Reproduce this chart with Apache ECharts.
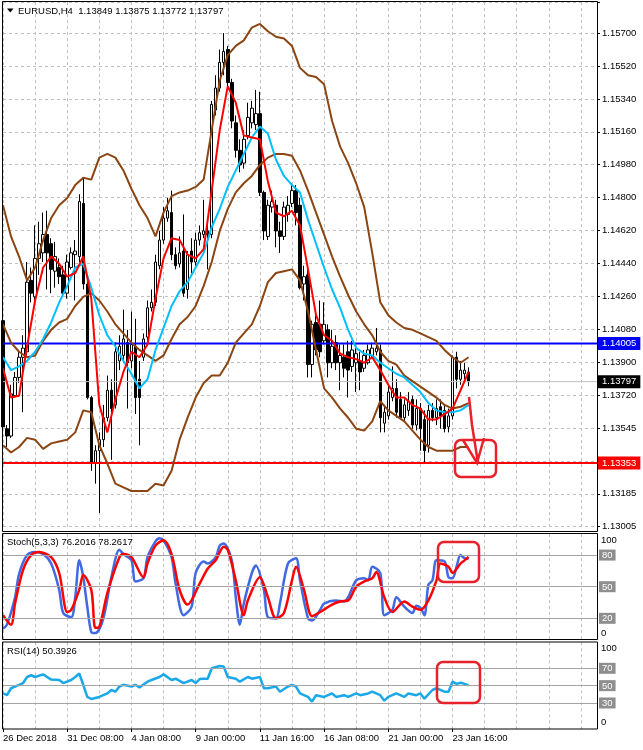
<!DOCTYPE html>
<html>
<head>
<meta charset="utf-8">
<title>EURUSD,H4</title>
<script src="https://cdn.jsdelivr.net/npm/echarts@6/dist/echarts.min.js"></script>
<style>
html, body { margin: 0; padding: 0; background: #fff; }
#chart { width: 643px; height: 750px; }
</style>
</head>
<body>
<div id="chart"></div>
<script>
// H4 candles (bar 0 = 26 Dec 2018 16:00)
var opens = [1.1413,1.1354,1.1350,1.1372,1.1382,1.1393,1.1396,1.1435,1.1426,1.1447,
  1.1450,1.1460,1.1455,1.1440,1.1442,1.1438,1.1428,1.1442,1.1449,1.1448,
  1.1477,1.1433,1.1371,1.1335,1.1342,1.1348,1.1360,1.1375,1.1367,1.1391,
  1.1394,1.1401,1.1391,1.1399,1.1381,1.1393,1.1404,1.1420,1.1423,1.1443,
  1.1457,1.1469,1.1472,1.1449,1.1444,1.1451,1.1430,1.1451,1.1445,1.1457,
  1.1460,1.1462,1.1460,1.1528,1.1540,1.1554,1.1561,1.1543,1.1521,1.1506,
  1.1499,1.1514,1.1521,1.1520,1.1526,1.1483,1.1459,1.1475,1.1476,1.1462,
  1.1459,1.1471,1.1477,1.1484,1.1476,1.1433,1.1438,1.1389,1.1412,1.1411,
  1.1402,1.1408,1.1390,1.1401,1.1390,1.1393,1.1396,1.1388,1.1390,1.1391,
  1.1387,1.1390,1.1394,1.1396,1.1397,1.1357,1.1361,1.1371,1.1376,1.1370,
  1.1360,1.1364,1.1370,1.1356,1.1365,1.1359,1.1345,1.1364,1.1360,1.1366,
  1.1364,1.1355,1.1361,1.1393,1.1381,1.1384,1.13849];
var highs = [1.1418,1.1356,1.1378,1.1385,1.1397,1.1405,1.1445,1.1442,1.1465,1.1467,
  1.1472,1.1473,1.1458,1.1456,1.1447,1.1443,1.1449,1.1453,1.1457,1.1482,
  1.1491,1.1436,1.1372,1.1345,1.1352,1.1367,1.1383,1.1381,1.1401,1.1405,
  1.1419,1.1408,1.1418,1.1414,1.1391,1.1406,1.1424,1.1430,1.1449,1.1462,
  1.1475,1.1480,1.1484,1.1453,1.1459,1.1471,1.1451,1.1458,1.1461,1.1465,
  1.1479,1.1467,1.1533,1.1547,1.1561,1.1570,1.1563,1.1545,1.1525,1.1512,
  1.1517,1.1532,1.1533,1.1539,1.1538,1.1484,1.1479,1.1484,1.1479,1.1467,
  1.1478,1.1481,1.1488,1.1487,1.1480,1.1443,1.1441,1.1413,1.1416,1.1424,
  1.1423,1.1411,1.1408,1.1405,1.1400,1.1400,1.1402,1.1402,1.1400,1.1396,
  1.1397,1.1400,1.1401,1.1409,1.1400,1.1367,1.1378,1.1388,1.1381,1.1374,
  1.1370,1.1374,1.1372,1.1370,1.1368,1.1364,1.1367,1.1368,1.1370,1.1370,
  1.1367,1.1365,1.1394,1.1396,1.1391,1.1390,1.13875];
var lows = [1.1353,1.1344,1.1349,1.1371,1.1379,1.1363,1.1394,1.1423,1.1424,1.1438,
  1.1445,1.1430,1.1428,1.1431,1.1433,1.1426,1.1425,1.1441,1.1424,1.1445,
  1.1430,1.1370,1.1331,1.1324,1.1308,1.1344,1.1358,1.1337,1.1365,1.1386,
  1.1390,1.1365,1.1387,1.1362,1.1345,1.1391,1.1402,1.1418,1.1421,1.1441,
  1.1455,1.1467,1.1446,1.1441,1.1442,1.1426,1.1425,1.1439,1.1443,1.1454,
  1.1458,1.1441,1.1458,1.1525,1.1538,1.1547,1.1539,1.1518,1.1502,1.1494,
  1.1496,1.1512,1.1518,1.1517,1.1481,1.1457,1.1457,1.1472,1.1453,1.1450,
  1.1457,1.1467,1.1475,1.1465,1.1430,1.1424,1.1382,1.1382,1.1394,1.1393,
  1.1400,1.1382,1.1387,1.1386,1.1375,1.1382,1.1371,1.1385,1.1374,1.1375,
  1.1385,1.1389,1.1393,1.1394,1.1352,1.1352,1.1359,1.1369,1.1360,1.1359,
  1.1358,1.1361,1.1354,1.1353,1.1342,1.1335,1.1341,1.1358,1.1356,1.1354,
  1.1352,1.1352,1.1359,1.1376,1.1378,1.1381,1.13772];
var closes = [1.1355,1.1350,1.1373,1.1382,1.1393,1.1398,1.1434,1.1428,1.1447,1.1455,
  1.1460,1.1450,1.1441,1.1448,1.1437,1.1428,1.1445,1.1450,1.1451,1.1478,
  1.1433,1.1371,1.1335,1.1342,1.1348,1.1360,1.1375,1.1365,1.1396,1.1399,
  1.1403,1.1390,1.1400,1.1371,1.1371,1.1403,1.1420,1.1423,1.1445,1.1457,
  1.1469,1.1473,1.1449,1.1443,1.1450,1.1428,1.1449,1.1445,1.1457,1.1461,
  1.1462,1.1460,1.1531,1.1540,1.1554,1.1560,1.1543,1.1522,1.1506,1.1498,
  1.1512,1.1524,1.1529,1.1526,1.1483,1.1462,1.1476,1.1478,1.1462,1.1459,
  1.1475,1.1476,1.1484,1.1472,1.1431,1.1437,1.1389,1.1411,1.1397,1.1396,
  1.1411,1.1390,1.1399,1.1390,1.1394,1.1387,1.1386,1.1397,1.1395,1.1385,
  1.1394,1.1397,1.1398,1.1398,1.1360,1.1363,1.1374,1.1376,1.1363,1.1360,
  1.1367,1.1369,1.1356,1.1365,1.1354,1.1342,1.1364,1.1360,1.1365,1.1361,
  1.1354,1.1361,1.1393,1.1381,1.1386,1.1386,1.13797];

// indicator lines, read every 2nd bar
var sampleStep = 2;
var bbUpper = [1.1476,1.1459,1.1448,1.1435,1.1442,1.1457,1.1469,1.1476,1.1480,1.1487,
  1.1491,1.1490,1.1502,1.1504,1.1502,1.1495,1.1485,1.1476,1.1469,1.1459,
  1.1472,1.1481,1.1483,1.1484,1.1486,1.1490,1.1517,1.1544,1.1558,1.1563,
  1.1566,1.1573,1.1575,1.1571,1.1568,1.1567,1.1563,1.1551,1.1547,1.1546,
  1.1542,1.1522,1.1508,1.1499,1.1488,1.1475,1.1450,1.1423,1.1416,1.1412,
  1.1409,1.1408,1.1406,1.1404,1.1402,1.1397,1.1393,1.1390,1.1393];
var bbMid = [1.1411,1.1401,1.1396,1.1393,1.1394,1.1402,1.1408,1.1412,1.1414,1.1421,
  1.1426,1.1428,1.1424,1.1418,1.1411,1.1406,1.1401,1.1397,1.1394,1.1391,
  1.1394,1.1403,1.1411,1.1415,1.1421,1.1432,1.1445,1.1462,1.1474,1.1483,
  1.1488,1.1492,1.1498,1.1502,1.1504,1.1504,1.1503,1.1495,1.1484,1.1472,
  1.1460,1.1448,1.1437,1.1427,1.1418,1.1411,1.1405,1.1396,1.1391,1.1389,
  1.1383,1.1380,1.1377,1.1374,1.1371,1.1367,1.1365,1.1366,1.1368];
var bbLower = [1.1345,1.1341,1.1344,1.1349,1.1348,1.1343,1.1346,1.1347,1.1348,1.1352,
  1.1364,1.1363,1.1345,1.1335,1.1324,1.1322,1.1320,1.1320,1.1320,1.1324,
  1.1323,1.1331,1.1348,1.1360,1.1371,1.1379,1.1383,1.1383,1.1390,1.1401,
  1.1406,1.1411,1.1421,1.1434,1.1439,1.1440,1.1441,1.1435,1.1418,1.1397,
  1.1376,1.1371,1.1365,1.1360,1.1354,1.1353,1.1358,1.1369,1.1364,1.1361,
  1.1358,1.1353,1.1348,1.1344,1.1342,1.1342,1.1342,1.1344,1.1344];
var maFast = [1.1387,1.1371,1.1372,1.1399,1.1424,1.1442,1.1448,1.1444,1.1437,1.1439,
  1.1448,1.1425,1.1367,1.1352,1.1370,1.1385,1.1396,1.1393,1.1400,1.1425,
  1.1447,1.1458,1.1457,1.1449,1.1447,1.1452,1.1484,1.1517,1.1541,1.1532,
  1.1514,1.1513,1.1512,1.1489,1.1472,1.1470,1.1473,1.1465,1.1441,1.1416,
  1.1405,1.1402,1.1395,1.1393,1.1392,1.1390,1.1393,1.1386,1.1378,1.1371,
  1.1371,1.1367,1.1365,1.1359,1.1359,1.1362,1.1365,1.1375,1.1385];
var maSlow = [1.1393,1.1386,1.1388,1.1391,1.1396,1.1403,1.1412,1.1423,1.1432,1.1442,
  1.1444,1.1431,1.1416,1.1405,1.1399,1.1391,1.1384,1.1376,1.1381,1.1397,
  1.1409,1.1421,1.1429,1.1434,1.1442,1.1450,1.1464,1.1474,1.1486,1.1495,
  1.1504,1.1513,1.1519,1.1515,1.1501,1.1492,1.1487,1.1483,1.1468,1.1455,
  1.1442,1.1430,1.1420,1.1408,1.1398,1.1395,1.1394,1.1390,1.1387,1.1384,
  1.1382,1.1378,1.1374,1.1368,1.1364,1.1363,1.1363,1.1364,1.1367];

// oscillators, [bar, value] at the turning points
var stochK = [[0,10],[1,14],[3,40],[4,62],[6,80],[8,83],[10,81],[12,72],[14,47],[15,25],
  [17,21],[18,40],[19,75],[20,59],[21,31],[22,7],[23,6],[25,20],[27,59],[29,85],
  [30,81],[32,75],[33,55],[35,58],[36,78],[38,93],[39,96],[40,94],[42,78],[43,53],
  [45,23],[47,31],[48,63],[50,74],[51,72],[53,78],[54,89],[55,91],[57,75],[58,40],
  [59,14],[60,34],[62,63],[63,70],[65,47],[66,21],[68,20],[69,34],[71,72],[73,77],
  [74,56],[76,20],[77,18],[79,28],[80,34],[83,37],[85,36],[86,40],[88,56],[90,58],
  [91,56],[92,69],[94,63],[95,23],[97,28],[98,40],[100,31],[102,25],[103,32],[104,30],
  [105,23],[106,52],[107,56],[108,75],[110,74],[111,59],[112,58],[113,69],[114,80],[115,77],
  [116,76.2016]];
var stochD = [[0,23],[2,14],[3,34],[5,66],[7,80],[9,83],[12,78],[14,63],[16,26],[17,28],
  [19,47],[20,61],[22,47],[23,11],[24,12],[26,44],[29,78],[30,81],[32,78],[35,59],
  [36,72],[38,89],[40,94],[42,81],[44,47],[46,33],[49,53],[51,67],[53,75],[55,88],
  [56,85],[58,56],[60,23],[61,37],[64,59],[66,40],[68,20],[70,25],[72,56],[73,69],
  [75,47],[77,22],[79,26],[82,33],[84,36],[86,37],[88,50],[90,55],[92,58],[93,64],
  [95,40],[97,26],[100,36],[102,31],[104,28],[106,37],[108,56],[109,72],[111,69],[112,63],
  [114,72],[115,75],[116,78.2617]];
var rsi = [[0,41],[1,39],[2,47],[4,51],[5,53],[6,60],[7,62],[8,60],[10,63],[11,60],
  [12,57],[14,56.5],[15,53],[17,56.5],[18,60],[19,64],[20,51],[21,37],[22,34.6],[24,37],
  [26,41],[27,45],[28,43],[29,49],[30,51],[32,49],[33,51],[34,48],[36,54.6],[37,56.5],
  [39,60],[40,63],[42,56.5],[43,58],[45,53],[47,56.5],[48,53],[49,57.6],[50,58],[51,58],
  [52,70],[54,72.6],[55,72],[56,60],[58,58],[59,54.6],[61,60],[62,58],[64,60],[65,47],
  [66,47],[68,49],[69,43],[71,49],[72,51],[73,49],[74,41],[76,37],[77,31.5],[78,39],
  [80,37],[82,41],[83,37],[85,39],[86,37],[88,41],[89,39],[91,41],[92,43],[94,39],
  [95,32.7],[96,37],[98,41],[100,37],[101,41],[103,39],[104,41],[105,35],[107,45],[108,47],
  [110,43],[111,43],[112,54.6],[113,52],[114,53.4],[115,52],[116,50.3926]];

var stochLast = [76.2016, 78.2617];
var rsiLast = 50.3926;
var resistance = 1.14005;
var support = 1.13353;

// price scale: 16 grid lines from 1.13005, one every 0.0017967
var priceMin = 1.13005;
var priceStep = 0.0017967;
var rulerMax = 15.944;
var priceLabels = ['1.13005','1.13185','','1.13545','1.13720','1.13900','1.14080','1.14260',
  '1.14440','1.14620','1.14800','1.14980','1.15160','1.15340','1.15520','1.15700'];
var timeLabels = ['26 Dec 2018','31 Dec 08:00','4 Jan 08:00','9 Jan 00:00',
  '11 Jan 16:00','16 Jan 08:00','21 Jan 00:00','23 Jan 16:00'];
var stochLevels = [20, 50, 80];
var rsiLevels = [30, 50, 70];

var barSlots = 149;
var categories = [];
for (var i = 0; i < barSlots; i++) categories.push(String(i));

var font = 'Liberation Sans, Arial, sans-serif';
var gridColor = '#c0c0c0';
var levelColor = '#a4a4a4';
var bbColor = '#8b4513';
var annotColor = '#e8222b';

var candleData = opens.map(function (o, k) { return [o, closes[k], lows[k], highs[k]]; });
function sampled(arr) {
	return arr.map(function (v, k) { return [k * sampleStep, v]; });
}
var last = opens.length - 1;
var titleText = 'EURUSD,H4  ' + [opens[last], highs[last], lows[last], closes[last]]
	.map(function (v) { return v.toFixed(5); }).join(' ');

function showTime(idx) {
	return idx % 16 === 0 && idx / 16 < timeLabels.length;
}
function timeAxis(gridIndex, withLabels) {
	return {
		type: 'category', gridIndex: gridIndex, data: categories, boundaryGap: false,
		axisLine: { show: false },
		axisTick: { show: withLabels, interval: showTime, length: 3, lineStyle: { color: '#000' } },
		axisLabel: {
			show: withLabels, interval: showTime, align: 'left', margin: 4,
			fontSize: 9.5, color: '#000', fontFamily: font,
			formatter: function (v, idx) { return timeLabels[idx / 16] || ''; }
		},
		splitLine: { show: true, interval: 7, lineStyle: { color: gridColor, type: [3, 3], width: 1 } }
	};
}
function oscAxis(gridIndex, levels) {
	return {
		type: 'value', gridIndex: gridIndex, position: 'right', min: 0, max: 100, interval: 10,
		axisLine: { show: false }, axisTick: { show: false }, splitLine: { show: false },
		axisLabel: {
			margin: 2, fontSize: 9.5, color: '#000', fontFamily: font,
			formatter: function (v) {
				if (v === 100) return '{top|100}';
				if (v === 0) return '{bot|0}';
				if (levels.indexOf(v) >= 0) return '{lvl|' + v + '}';
				return '';
			},
			rich: {
				top: { padding: [12, 0, 0, 2], fontSize: 9.5, color: '#000', fontFamily: font },
				bot: { padding: [0, 0, 13, 2], fontSize: 9.5, color: '#000', fontFamily: font },
				lvl: { backgroundColor: '#8e8e8e', color: '#fff', padding: [1, 3, 0, 3], fontSize: 9.5, fontFamily: font }
			}
		}
	};
}
function levelLines(levels) {
	return {
		silent: true, symbol: 'none', animation: false, label: { show: false },
		lineStyle: { color: levelColor, type: 'solid', width: 1 },
		data: levels.map(function (v) { return { yAxis: v }; })
	};
}
function line(name, data, color, width, xi, yi) {
	return {
		name: name, type: 'line', data: data, xAxisIndex: xi, yAxisIndex: yi,
		showSymbol: false, symbol: 'none', smooth: false,
		lineStyle: { color: color, width: width }, itemStyle: { color: color }
	};
}
// horizontal price line across the main panel, tagged on the price scale
function priceLine(value, color, width, bg) {
	var s = line('level ' + value, [[0, value], [barSlots - 1, value]], color, width, 0, 0);
	s.silent = true;
	s.endLabel = {
		show: true, formatter: value.toFixed(5), distance: 1,
		color: '#fff', backgroundColor: bg, padding: [2, 4, 1, 4],
		fontSize: 9.5, fontFamily: font
	};
	return s;
}

var chart = echarts.init(document.getElementById('chart'));
chart.setOption({
	animation: false,
	backgroundColor: '#fff',
	textStyle: { fontFamily: font },
	grid: [
		{ left: 3, top: 2, width: 594, height: 524.7 },
		{ left: 3, top: 534, width: 594, height: 105.4 },
		{ left: 3, top: 642.3, width: 594, height: 86.7 }
	],
	xAxis: [timeAxis(0, false), timeAxis(1, false), timeAxis(2, true)],
	yAxis: [
		{ type: 'value', gridIndex: 0, min: priceMin, max: priceMin + rulerMax * priceStep, show: false },
		{
			type: 'value', gridIndex: 0, position: 'right', min: 0, max: rulerMax, interval: 1,
			axisLine: { show: false },
			axisTick: { show: true, length: 3, lineStyle: { color: '#000' } },
			axisLabel: {
				margin: 5, fontSize: 9.5, color: '#000', fontFamily: font,
				formatter: function (v) { return priceLabels[v] || ''; }
			},
			splitLine: { show: true, lineStyle: { color: gridColor, type: [3, 3], width: 1 } }
		},
		oscAxis(1, stochLevels),
		oscAxis(2, rsiLevels)
	],
	series: [
		priceLine(closes[last], '#c0c0c0', 1, '#000'),
		{
			type: 'candlestick', xAxisIndex: 0, yAxisIndex: 0, data: candleData, barWidth: 3,
			itemStyle: { color: '#fff', color0: '#000', borderColor: '#000', borderColor0: '#000', borderWidth: 1 }
		},
		priceLine(resistance, '#0000ff', 2, '#0000ff'),
		priceLine(support, '#ff0000', 2, '#ff0000'),
		line('BB upper', sampled(bbUpper), bbColor, 2, 0, 0),
		line('BB middle', sampled(bbMid), bbColor, 2, 0, 0),
		line('BB lower', sampled(bbLower), bbColor, 2, 0, 0),
		line('MA slow', sampled(maSlow), '#00bfff', 2, 0, 0),
		line('MA fast', sampled(maFast), '#ff0000', 2, 0, 0),
		Object.assign(line('Stoch main', stochK, '#4169e1', 2.5, 1, 2), { smooth: 0.3, markLine: levelLines(stochLevels) }),
		Object.assign(line('Stoch signal', stochD, '#ff0000', 2.5, 1, 2), { smooth: 0.3 }),
		Object.assign(line('RSI', rsi, '#1aa8e8', 2.5, 2, 3), { markLine: levelLines(rsiLevels) })
	],
	graphic: [
		{ type: 'rect', silent: true, z: 50, shape: { x: 2.5, y: 1.5, width: 595, height: 530 }, style: { fill: 'none', stroke: '#000', lineWidth: 1 } },
		{ type: 'rect', silent: true, z: 50, shape: { x: 2.5, y: 533.5, width: 595, height: 106 }, style: { fill: 'none', stroke: '#000', lineWidth: 1 } },
		{ type: 'rect', silent: true, z: 50, shape: { x: 2.5, y: 642, width: 595, height: 87 }, style: { fill: 'none', stroke: '#000', lineWidth: 1 } },
		{ type: 'polygon', silent: true, z: 50, shape: { points: [[7, 8.5], [13.5, 8.5], [10.25, 12.5]] }, style: { fill: '#000' } },
		{ type: 'text', silent: true, z: 50, x: 18, y: 11, style: { text: titleText, fill: '#000', fontSize: 9.5, fontFamily: font, verticalAlign: 'middle' } },
		{ type: 'text', silent: true, z: 50, x: 7, y: 542, style: { text: 'Stoch(5,3,3) ' + stochLast[0].toFixed(4) + ' ' + stochLast[1].toFixed(4), fill: '#000', fontSize: 9.5, fontFamily: font, verticalAlign: 'middle' } },
		{ type: 'text', silent: true, z: 50, x: 7, y: 651, style: { text: 'RSI(14) ' + rsiLast.toFixed(4), fill: '#000', fontSize: 9.5, fontFamily: font, verticalAlign: 'middle' } },
		// hand-drawn marks
		{ type: 'polyline', silent: true, z: 60, shape: { points: [[469, 397], [472, 425], [478, 463]] }, style: { fill: 'none', stroke: annotColor, lineWidth: 2.5 } },
		{ type: 'polyline', silent: true, z: 60, shape: { points: [[463, 440], [477, 463], [484, 438]] }, style: { fill: 'none', stroke: annotColor, lineWidth: 2.5 } },
		{ type: 'rect', silent: true, z: 60, shape: { x: 455, y: 440, width: 41, height: 37, r: 6 }, style: { fill: 'none', stroke: annotColor, lineWidth: 2.5 } },
		{ type: 'rect', silent: true, z: 60, shape: { x: 438, y: 542, width: 41, height: 40, r: 6 }, style: { fill: 'none', stroke: annotColor, lineWidth: 2.5 } },
		{ type: 'rect', silent: true, z: 60, shape: { x: 437, y: 662, width: 43, height: 41, r: 6 }, style: { fill: 'none', stroke: annotColor, lineWidth: 2.5 } }
	]
});
</script>
</body>
</html>
